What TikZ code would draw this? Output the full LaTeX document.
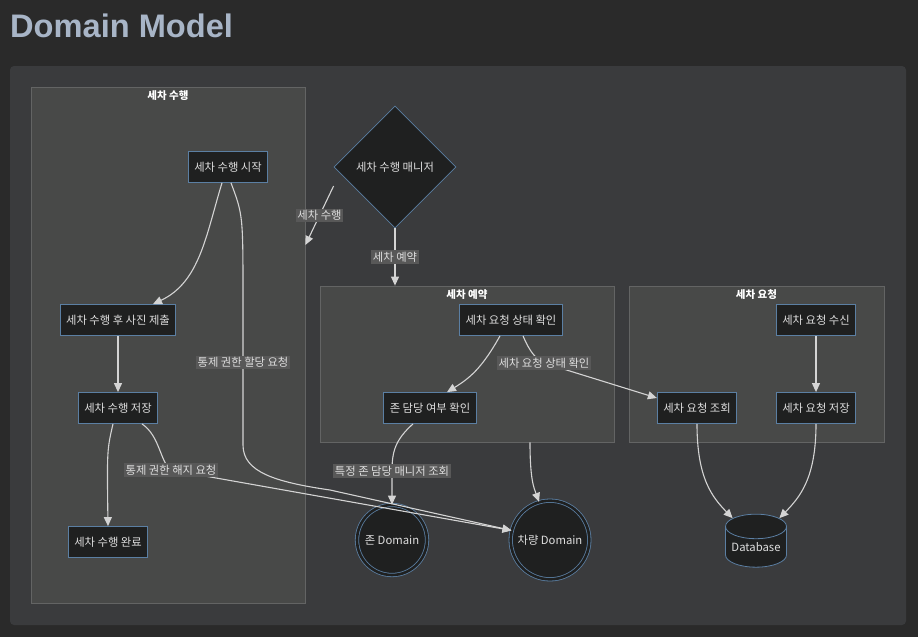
\documentclass[tikz,border=0pt]{standalone}
\usepackage{fontspec}
\setmainfont{Noto Sans CJK KR}
\newfontfamily\titlefont{Liberation Sans}
\usetikzlibrary{arrows.meta,shapes.geometric}
\definecolor{pagebg}{HTML}{2A2A2A}
\definecolor{panelbg}{HTML}{3A3B3D}
\definecolor{clusterbg}{HTML}{484948}
\definecolor{clusterline}{HTML}{636464}
\definecolor{nodebg}{HTML}{1F2020}
\definecolor{nodeline}{HTML}{5B7FA3}
\definecolor{textcol}{HTML}{DEDEDE}
\definecolor{labelbg}{HTML}{585858}
\definecolor{titlecol}{HTML}{A8B5C7}
\definecolor{edgecol}{HTML}{D4D4D4}
\begin{document}
\begin{tikzpicture}[x=1pt,y=-1pt,
 procbox/.style={draw=nodeline,fill=nodebg,text=textcol,line width=0.8pt,minimum height=31,inner xsep=6pt,font=\fontsize{11.3}{13}\selectfont},
 cluster/.style={draw=clusterline,fill=clusterbg,line width=0.8pt},
 ctitle/.style={text=white,anchor=north,inner sep=4pt,font=\bfseries\fontsize{10.5}{12}\selectfont},
 conn/.style={draw=edgecol,line width=1.1pt,-{Triangle[length=9pt,width=8pt]}},
 lbl/.style={fill=labelbg,text=textcol,inner sep=1.5pt,font=\fontsize{11.3}{13}\selectfont},
 dom/.style={circle,draw=nodeline,double=nodebg,double distance=2.6pt,fill=nodebg,line width=0.8pt,text=textcol,inner sep=0pt,font=\fontsize{11.3}{13}\selectfont}]
 \useasboundingbox (0,0) rectangle (918,637);
 \fill[pagebg] (0,0) rectangle (918,637);
 \fill[panelbg,rounded corners=4pt] (10,66) rectangle (906,625);
 \node[anchor=base west,inner sep=0pt,text=titlecol,font=\titlefont\bfseries\fontsize{32.6}{36}\selectfont] (title) at (10,37) {Domain Model};
 % clusters
 \node[cluster,minimum width=274,minimum height=516] (run) at (168,345) {};
 \node[ctitle] at (run.north) {세차 수행};
 \node[cluster,minimum width=294,minimum height=156] (resv) at (467,364) {};
 \node[ctitle] at (resv.north) {세차 예약};
 \node[cluster,minimum width=255,minimum height=156] (req) at (756.5,364) {};
 \node[ctitle] at (req.north) {세차 요청};
 % nodes
 \node[procbox] (start) at (228,167) {세차 수행 시작};
 \node[procbox] (photo) at (118,320) {세차 수행 후 사진 제출};
 \node[procbox] (save) at (118,408) {세차 수행 저장};
 \node[procbox] (done) at (108,542) {세차 수행 완료};
 \node[diamond,draw=nodeline,fill=nodebg,line width=0.8pt,text=textcol,minimum width=122,minimum height=122,inner sep=0pt,font=\fontsize{11.3}{13}\selectfont] (mgr) at (395,167) {세차 수행 매니저};
 \node[procbox] (check) at (511,320) {세차 요청 상태 확인};
 \node[procbox] (zchk) at (430,408) {존 담당 여부 확인};
 \node[procbox] (recv) at (816,320) {세차 요청 수신};
 \node[procbox] (lookup) at (697,408) {세차 요청 조회};
 \node[procbox] (store) at (816,408) {세차 요청 저장};
 \node[dom,minimum size=70] (zone) at (392,540) {존 Domain};
 \node[dom,minimum size=78.6] (car) at (550,540) {차량 Domain};
 \node[cylinder,shape border rotate=90,aspect=0.5,draw=nodeline,fill=nodebg,line width=0.8pt,text=textcol,minimum width=61,minimum height=53,inner sep=0pt,font=\fontsize{11.3}{13}\selectfont] (db) at (756,547) {Database};
 % connectors
 \draw[conn] ([xshift=-6pt]start.south) .. controls (206,235) and (200,282) .. ([xshift=35pt]photo.north);
 \draw[conn] ([xshift=3pt]start.south) .. controls (243,215) .. (243,300) -- node[lbl,pos=0.43]{통제 권한 할당 요청} (243,445) .. controls (243,472) and (275,482) .. (330,490) -- (car.166);
 \draw[conn] (photo) -- (save);
 \draw[conn] ([xshift=-5pt]save.south) .. controls (107,450) .. (done.north);
 \draw[conn] ([xshift=24pt]save.south) .. controls (160,436) and (160,462) .. (171,470) node[lbl]{통제 권한 해지 요청} -- (car.166);
 \draw[conn] ([yshift=-19pt]mgr.west) -- node[lbl]{세차 수행} ([yshift=100pt]run.east);
 \draw[conn] (mgr.south) -- node[lbl]{세차 예약} (mgr.south |- resv.north);
 \draw[conn] ([xshift=-11pt]check.south) .. controls (482,368) and (470,378) .. ([xshift=17pt]zchk.north);
 \draw[conn] ([xshift=12pt]check.south) .. controls (530,352) and (535,358) .. (544,363) node[lbl]{세차 요청 상태 확인} -- ([yshift=10pt]lookup.west);
 \draw[conn] ([xshift=-17pt]zchk.south) .. controls (395,440) and (392,452) .. (392,471) node[lbl]{특정 존 담당 매니저 조회} -- (zone.north);
 \draw[conn] ([xshift=63pt]resv.south) .. controls (530,480) and (534,488) .. (car.106);
 \draw[conn] (recv) -- (store);
 \draw[conn] (lookup.south) .. controls (697,478) and (712,497) .. (db.129);
 \draw[conn] (store.south) .. controls (816,478) and (800,497) .. (db.51);
\end{tikzpicture}
\end{document}
